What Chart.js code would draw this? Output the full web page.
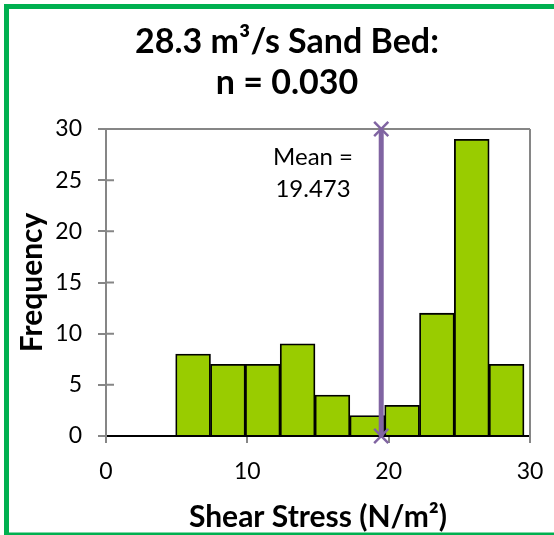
<!DOCTYPE html>
<html>
<head>
<meta charset="utf-8">
<script src="https://cdn.jsdelivr.net/npm/chart.js@4.4.1/dist/chart.umd.min.js"></script>
<style>
  html, body { margin: 0; padding: 0; background: #fff; }
  #wrap { width: 554px; height: 535px; }
</style>
</head>
<body>
<div id="wrap"><canvas id="chart" width="554" height="535"></canvas></div>
<script>
//--- Data.
const binUpper = [2.5, 5, 7.5, 10, 12.5, 15, 17.5, 20, 22.5, 25, 27.5, 30];
const frequency = [0, 0, 8, 7, 7, 9, 4, 2, 3, 12, 29, 7];
const binWidth = 2.5;
const meanValue = 19.473;
const meanLineY = [30, 0];
const titleLines = ['28.3 m³/s Sand Bed:', 'n = 0.030'];

const FONT = 'Lato';
const GREY = '#868686';
const PURPLE = '#8064A2';

const binCenters = binUpper.map(b => b - binWidth / 2);

//--- Frame, title, plot border and mean label.
const histDecor = {
  id: 'histDecor',
  beforeDraw(chart) {
    const { ctx } = chart;
    ctx.save();
    ctx.fillStyle = '#fff';
    ctx.fillRect(0, 0, chart.width, chart.height);
    // green outline (right side runs off the picture)
    ctx.strokeStyle = '#00B050';
    ctx.lineWidth = 5;
    ctx.strokeRect(6.5, 6.5, 600, 528.5);

    ctx.fillStyle = '#000';
    ctx.textAlign = 'center';
    ctx.textBaseline = 'alphabetic';
    ctx.font = 'bold 34px ' + FONT;
    ctx.fillText(titleLines[0], 287, 53);
    ctx.fillText(titleLines[1], 287, 94);
    ctx.restore();
  },
  beforeDatasetsDraw(chart) {
    const { ctx, chartArea: a, scales } = chart;
    ctx.save();
    ctx.strokeStyle = GREY;
    ctx.lineWidth = 2;
    ctx.beginPath();
    ctx.moveTo(a.left, a.top);
    ctx.lineTo(a.right, a.top);
    ctx.moveTo(a.right, a.top);
    ctx.lineTo(a.right, a.bottom + 7);
    // inner half of the y ticks (not over the black base line)
    scales.y.ticks.forEach(t => {
      if (t.value === 0) return;
      const py = scales.y.getPixelForValue(t.value);
      ctx.moveTo(a.left, py);
      ctx.lineTo(a.left + 8, py);
    });
    ctx.stroke();
    ctx.restore();
  },
  afterDatasetsDraw(chart) {
    const { ctx, scales } = chart;
    const px = scales.x.getPixelForValue(14.65);
    const py = scales.y.getPixelForValue(27.2);
    ctx.save();
    ctx.fillStyle = '#000';
    ctx.font = '24px ' + FONT;
    ctx.textAlign = 'center';
    ctx.textBaseline = 'middle';
    ctx.fillText('Mean =', px, py);
    ctx.fillText(meanValue.toFixed(3), px, py + 32);
    ctx.restore();
  }
};

new Chart(document.getElementById('chart'), {
  type: 'bar',
  data: {
    datasets: [
      {
        type: 'bar',
        xAxisID: 'xb',
        data: binCenters.map((c, i) => ({ x: c, y: frequency[i] })),
        backgroundColor: '#99CC00',
        borderColor: '#000',
        borderWidth: 1.8,
        borderSkipped: 'bottom',
        grouped: false,
        barPercentage: 1,
        categoryPercentage: 1,
        order: 1
      },
      {
        type: 'line',
        xAxisID: 'x',
        data: meanLineY.map(y => ({ x: meanValue, y })),
        borderColor: PURPLE,
        borderWidth: 5,
        pointStyle: 'crossRot',
        pointRadius: 10,
        pointBorderWidth: 2.5,
        pointBorderColor: PURPLE,
        pointBackgroundColor: PURPLE,
        clip: false,
        order: 0
      }
    ]
  },
  options: {
    responsive: false,
    animation: false,
    layout: { padding: { left: 14, right: 24, top: 129, bottom: 0 } },
    scales: {
      xb: {
        type: 'linear',
        display: false,
        min: 0,
        max: 30.43, // bins stop a few pixels short of the axis end
        offset: false,
        grid: { offset: false },
        // ticks on the bin centres so the bar width is one bin
        afterBuildTicks(scale) { scale.ticks = binCenters.map(v => ({ value: v })); }
      },
      x: {
        type: 'linear',
        min: 0,
        max: 30,
        offset: false,
        grid: { offset: false, drawOnChartArea: false, color: GREY, lineWidth: 2, tickLength: 7 },
        border: { color: '#000', width: 2 },
        ticks: { stepSize: 10, color: '#000', font: { family: FONT, size: 23 }, padding: 15, maxRotation: 0 },
        title: {
          display: true,
          text: 'Shear Stress (N/m²)',
          color: '#000',
          font: { family: FONT, size: 30, weight: 'bold', lineHeight: 1.2 },
          padding: { top: 6, bottom: 0 }
        },
        afterFit(scale) {
          scale.height = 99;
          // end labels may hang into the layout padding
          scale.paddingLeft = 0;
          scale.paddingRight = 0;
        }
      },
      y: {
        min: 0,
        max: 30,
        grid: { drawOnChartArea: false, color: GREY, lineWidth: 2, tickLength: 8 },
        border: { color: GREY, width: 2 },
        ticks: { stepSize: 5, color: '#000', font: { family: FONT, size: 23 }, padding: 16 },
        title: {
          display: true,
          text: 'Frequency',
          color: '#000',
          font: { family: FONT, size: 30, weight: 'bold', lineHeight: 1.2 },
          padding: { top: 0, bottom: 0 }
        },
        afterFit(scale) { scale.width = 92; }
      }
    },
    plugins: {
      legend: { display: false },
      tooltip: { enabled: false }
    }
  },
  plugins: [histDecor]
});
</script>
</body>
</html>
